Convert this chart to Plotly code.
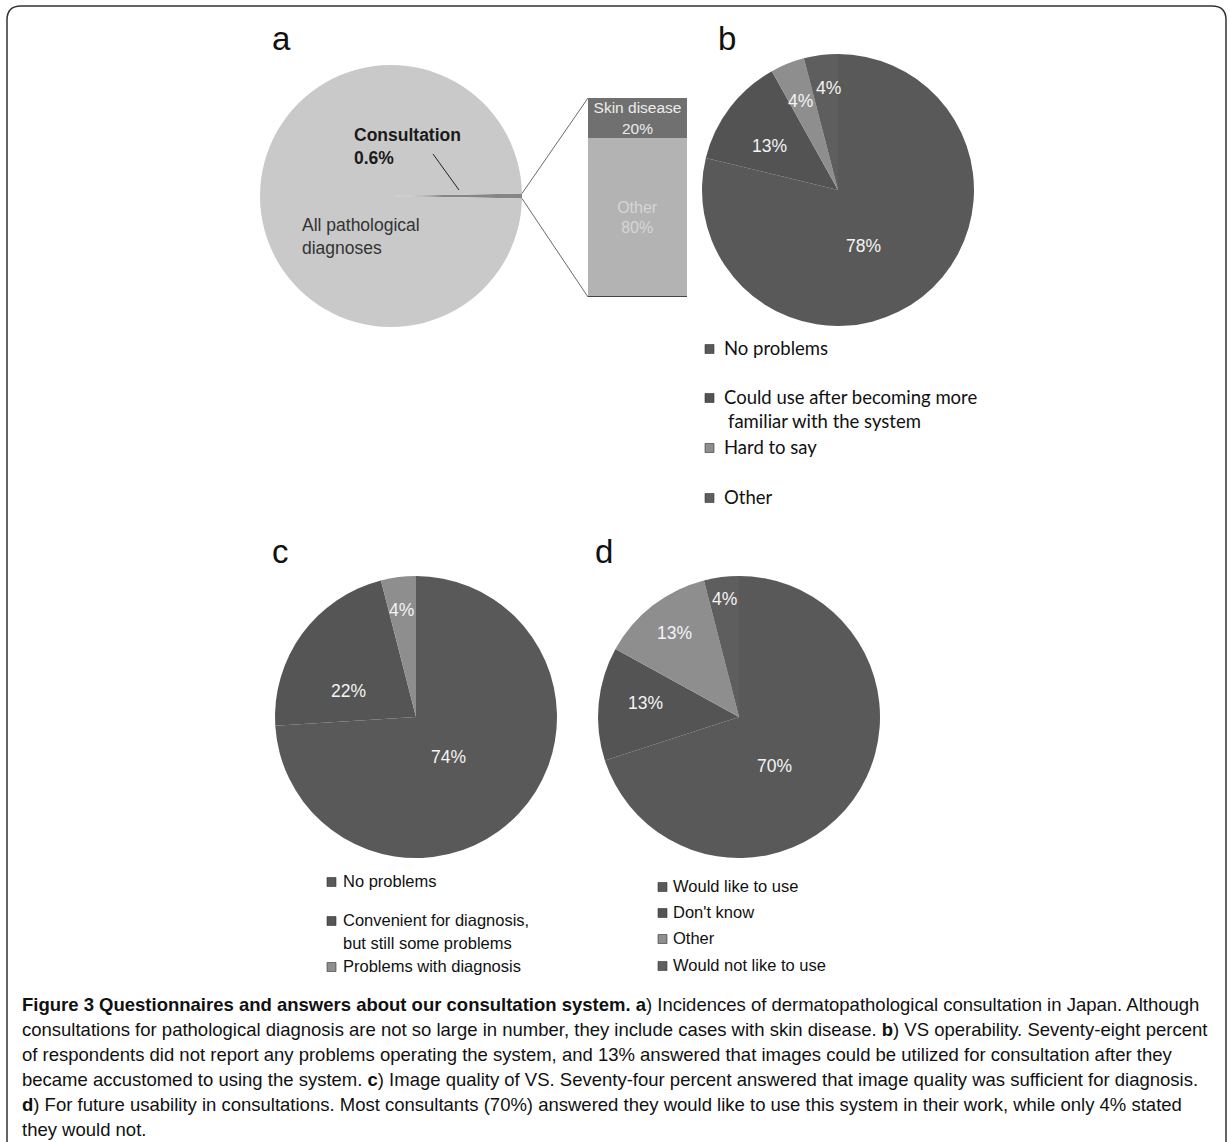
import math
import plotly.graph_objects as go

W, H = 1230, 1142

# ---------------- data ----------------
a_labels = ["Consultation", "All pathological diagnoses"]
a_values = [0.6, 99.4]
a_bar_labels = ["Other", "Skin disease"]
a_bar_values = [80, 20]

b_labels = ["No problems", "Could use after becoming more<br>familiar with the system", "Hard to say", "Other"]
b_values = [78, 13, 4, 4]

c_labels = ["No problems", "Convenient for diagnosis,<br>but still some problems", "Problems with diagnosis"]
c_values = [74, 22, 4]

d_labels = ["Would like to use", "Don't know", "Other", "Would not like to use"]
d_values = [70, 13, 13, 4]

caption_lines = [
    "<b>Figure 3 Questionnaires and answers about our consultation system. a</b>) Incidences of dermatopathological consultation in Japan. Although",
    "consultations for pathological diagnosis are not so large in number, they include cases with skin disease. <b>b</b>) VS operability. Seventy-eight percent",
    "of respondents did not report any problems operating the system, and 13% answered that images could be utilized for consultation after they",
    "became accustomed to using the system. <b>c</b>) Image quality of VS. Seventy-four percent answered that image quality was sufficient for diagnosis.",
    "<b>d</b>) For future usability in consultations. Most consultants (70%) answered they would like to use this system in their work, while only 4% stated",
    "they would not.",
]

# ---------------- styles ----------------
b_colors = ["#595959", "#535353", "#8e8e8e", "#5e5e5e"]
c_colors = ["#595959", "#555555", "#8e8e8e"]
d_colors = ["#595959", "#545454", "#8e8e8e", "#5e5e5e"]
a_colors = ["#858585", "#c9c9c9"]
a_bar_colors = ["#b3b3b3", "#707070"]

ARIAL = "Liberation Sans, Arial, sans-serif"
CALIBRI = "Lato, Liberation Sans, sans-serif"
CAPTION_FONT = "Liberation Sans, Arial, sans-serif"


def px(x):
    return x / W


def py(y):
    return 1 - y / H


def domain(cx, cy, r):
    return dict(x=[px(cx - r), px(cx + r)], y=[py(cy + r), py(cy - r)])


def ann(**kw):
    d = dict(xref="paper", yref="paper", showarrow=False)
    d.update(kw)
    annotations.append(d)


fig = go.Figure()
annotations = []
shapes = []

# ---------------- panel a ----------------
A_C, A_R = (391, 196), 131
a_half = 360 * a_values[0] / sum(a_values) / 2
fig.add_trace(go.Pie(
    labels=a_labels, values=a_values, sort=False, direction="clockwise",
    rotation=90 - a_half, domain=domain(*A_C, A_R),
    marker=dict(colors=a_colors, line=dict(width=0)),
    textinfo="none", hoverinfo="label+percent", showlegend=False,
))

# bar of pie
BAR_X0, BAR_X1, BAR_Y0, BAR_Y1 = 588, 687, 98, 297
fig.add_trace(go.Bar(
    x=["a"], y=[a_bar_values[0]], marker=dict(color=a_bar_colors[0], line=dict(width=0)),
    text=[f"{a_bar_labels[0]}<br>{a_bar_values[0]}%"], textposition="inside",
    insidetextanchor="middle", constraintext="none",
    textfont=dict(family=ARIAL, size=16, color="#d6d6d6"),
    xaxis="x", yaxis="y", showlegend=False,
))
fig.add_trace(go.Bar(
    x=["a"], y=[a_bar_values[1]], marker=dict(color=a_bar_colors[1], line=dict(width=0)),
    text=[f"{a_bar_labels[1]}<br>{a_bar_values[1]}%"], textposition="inside",
    insidetextanchor="middle", constraintext="none",
    textfont=dict(family=ARIAL, size=15.5, color="#ececec"),
    xaxis="x", yaxis="y", showlegend=False,
))
shapes.append(dict(type="line", xref="x", yref="y", x0=-0.5, x1=0.5, y0=0, y1=0,
                   line=dict(color="#444", width=2)))

# connector lines from slice edge to bar corners
for ang, by in [(90 - a_half, BAR_Y0), (90 + a_half, BAR_Y1)]:
    ex = A_C[0] + A_R * math.sin(math.radians(ang))
    ey = A_C[1] - A_R * math.cos(math.radians(ang))
    shapes.append(dict(type="line", xref="paper", yref="paper",
                       x0=px(ex), y0=py(ey), x1=px(BAR_X0), y1=py(by),
                       line=dict(color="#6a6a6a", width=1)))

ann(text=f"<b>{a_labels[0]}<br>{a_values[0]}%</b>", x=px(352), y=py(147),
    xanchor="left", yanchor="middle", align="left",
    font=dict(family=ARIAL, size=17.5, color="#1a1a1a"))
shapes.append(dict(type="line", xref="paper", yref="paper", x0=px(433), y0=py(154),
                   x1=px(459), y1=py(190), line=dict(color="#222", width=1)))
ann(text="All pathological<br>diagnoses", x=px(300), y=py(236),
    xanchor="left", yanchor="middle", align="left",
    font=dict(family=ARIAL, size=17.5, color="#333333"))


# ---------------- pies b, c, d ----------------
def add_pie(labels, values, colors, center, R, r_fracs, d_angles):
    fig.add_trace(go.Pie(
        labels=[l.replace("<br>", " ") for l in labels], values=values, sort=False,
        direction="clockwise", rotation=0, domain=domain(*center, R),
        marker=dict(colors=colors, line=dict(width=0)),
        textinfo="none", hoverinfo="label+value", showlegend=False,
    ))
    tot = sum(values)
    cum = 0
    for v, rf, da in zip(values, r_fracs, d_angles):
        mid = (cum + v / 2) / tot * 360 + da
        cum += v
        lx = center[0] + rf * R * math.sin(math.radians(mid))
        ly = center[1] - rf * R * math.cos(math.radians(mid))
        ann(text=f"{v}%", x=px(lx), y=py(ly), xanchor="center", yanchor="middle",
            font=dict(family=ARIAL, size=17.5, color="#f4f4f4"))


add_pie(b_labels, b_values, b_colors, (838, 190), 136,
        [0.454, 0.596, 0.709, 0.754], [13.3, -4.4, -0.8, 1.7])
add_pie(c_labels, c_values, c_colors, (416, 717), 141,
        [0.363, 0.516, 0.765], [8.1, -15.1, -0.3])
add_pie(d_labels, d_values, d_colors, (739, 717), 141,
        [0.431, 0.674, 0.753, 0.843], [17.7, 3.1, 0.1, 0.4])


# ---------------- legends ----------------
def add_legend(labels, colors, mx, tx, rows, font, size, line_gap, indent, msize=9):
    for lab, col, ry in zip(labels, colors, rows):
        shapes.append(dict(type="rect", xref="paper", yref="paper",
                           x0=px(mx), x1=px(mx + msize), y0=py(ry - msize / 2 + 1), y1=py(ry + msize / 2 + 1),
                           fillcolor=col, line=dict(width=0.6, color="#333")))
        for k, part in enumerate(lab.split("<br>")):
            ann(text=part, x=px(tx + (indent if k else 0)), y=py(ry + k * line_gap),
                xanchor="left", yanchor="middle",
                font=dict(family=font, size=size, color="#111"))


add_legend(b_labels, b_colors, 705, 722, [348, 397, 447, 497], CALIBRI, 18.5, 24, 4)
add_legend(c_labels, c_colors, 327, 341, [881, 920, 966], ARIAL, 16.5, 23, 0)
add_legend(d_labels, d_colors, 658, 671, [886, 912, 938, 965], ARIAL, 16.5, 0, 0)

# ---------------- panel letters ----------------
for letter, (lx, ly) in zip("abcd", [(281, 38), (727, 38), (280, 551), (604, 551)]):
    ann(text=letter, x=px(lx), y=py(ly), xanchor="center", yanchor="middle",
        font=dict(family=ARIAL, size=33, color="#111"))

# ---------------- caption ----------------
for i, line in enumerate(caption_lines):
    ann(text=line, x=px(20), y=py(1004 + i * 25), xanchor="left", yanchor="middle",
        font=dict(family=CAPTION_FONT, size=18.5, color="#111"))

# ---------------- frame ----------------
fx0, fx1, fy0, fy1, rr = 7, 1226, 6, 1150, 14
path = (f"M {px(fx0)},{py(fy1)} L {px(fx0)},{py(fy0 + rr)} "
        f"Q {px(fx0)},{py(fy0)} {px(fx0 + rr)},{py(fy0)} "
        f"L {px(fx1 - rr)},{py(fy0)} Q {px(fx1)},{py(fy0)} {px(fx1)},{py(fy0 + rr)} "
        f"L {px(fx1)},{py(fy1)}")
shapes.append(dict(type="path", xref="paper", yref="paper", path=path,
                   line=dict(color="#333", width=1.5)))

fig.update_layout(
    width=W, height=H, margin=dict(l=0, r=0, t=0, b=0),
    paper_bgcolor="white", plot_bgcolor="white",
    barmode="stack", bargap=0,
    xaxis=dict(domain=[px(BAR_X0), px(BAR_X1)], range=[-0.5, 0.5], visible=False, fixedrange=True),
    yaxis=dict(domain=[py(BAR_Y1), py(BAR_Y0)], range=[0, 100], visible=False, fixedrange=True),
    annotations=annotations, shapes=shapes, showlegend=False,
)

fig.write_html("out.html", config={"displayModeBar": False},
               post_script="document.body.style.margin='0px';")
